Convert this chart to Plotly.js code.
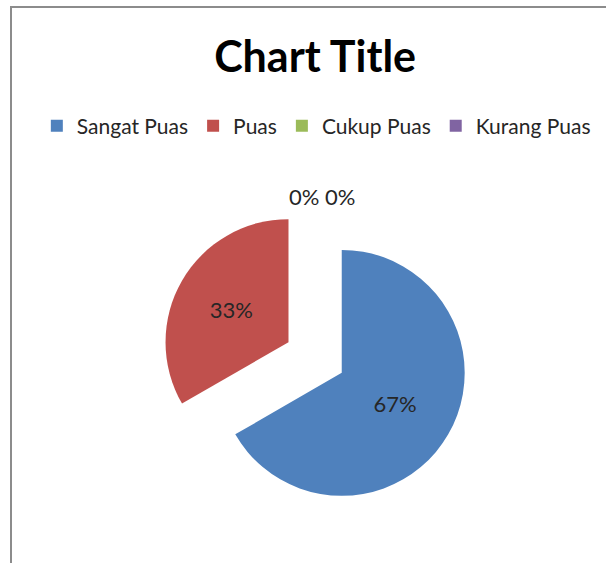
<!DOCTYPE html>
<html>
<head>
<meta charset="utf-8">
<script src="https://cdn.plot.ly/plotly-3.0.1.min.js"></script>
<style>
html,body{margin:0;padding:0;background:#fff;}
#wrap{position:relative;width:606px;height:563px;overflow:hidden;}
#chart{position:absolute;left:0;top:0;width:606px;height:563px;}
#frame{position:absolute;left:10px;top:6px;width:700px;height:700px;border-left:2px solid #8c8c8c;border-top:2px solid #8c8c8c;pointer-events:none;}
</style>
</head>
<body>
<div id="wrap"><div id="chart"></div><div id="frame"></div></div>
<script>
const categories = ["Sangat Puas", "Puas", "Cukup Puas", "Kurang Puas"];
const values = [2, 1, 0, 0];
const colors = ["#4F81BD", "#C0504D", "#9BBB59", "#8064A2"];
const chartTitle = "Chart Title";

const total = values.reduce((a, b) => a + b, 0);
const pct = values.map(v => Math.round(100 * v / total) + "%");
const zeroLabels = pct.filter((p, i) => values[i] === 0).join(" ");

const font = "Lato, 'Open Sans', sans-serif";

const trace = {
  type: "pie",
  labels: categories,
  values: values,
  sort: false,
  direction: "clockwise",
  rotation: 0,
  marker: {colors: colors, line: {width: 0}},
  pull: values.map(() => 0.25),
  texttemplate: values.map(v => v > 0 ? "%{percent:.0%}" : ""),
  textposition: "inside",
  insidetextorientation: "horizontal",
  textfont: {family: font, size: 22, color: "#262626"},
  hoverinfo: "label+percent",
  domain: {x: [0.266, 0.774], y: [0.092, 0.638]},
  showlegend: true
};

const layout = {
  width: 606, height: 563,
  margin: {l: 0, r: 0, t: 0, b: 0},
  paper_bgcolor: "#fff",
  title: {text: "<b>" + chartTitle + "</b>", x: 0.52, xanchor: "center", y: 0.898, yanchor: "middle",
          font: {family: font, size: 43, color: "#000"}},
  legend: {orientation: "h", x: 0.522, xanchor: "center", y: 0.776, yanchor: "middle",
           font: {family: font, size: 21, color: "#262626"}, itemwidth: 30, traceorder: "normal"},
  annotations: [{text: zeroLabels, xref: "paper", yref: "paper", x: 0.531, y: 0.678,
                 showarrow: false, font: {family: font, size: 22, color: "#262626"}}]
};

Plotly.newPlot("chart", [trace], layout, {displayModeBar: false, staticPlot: true});
</script>
</body>
</html>
